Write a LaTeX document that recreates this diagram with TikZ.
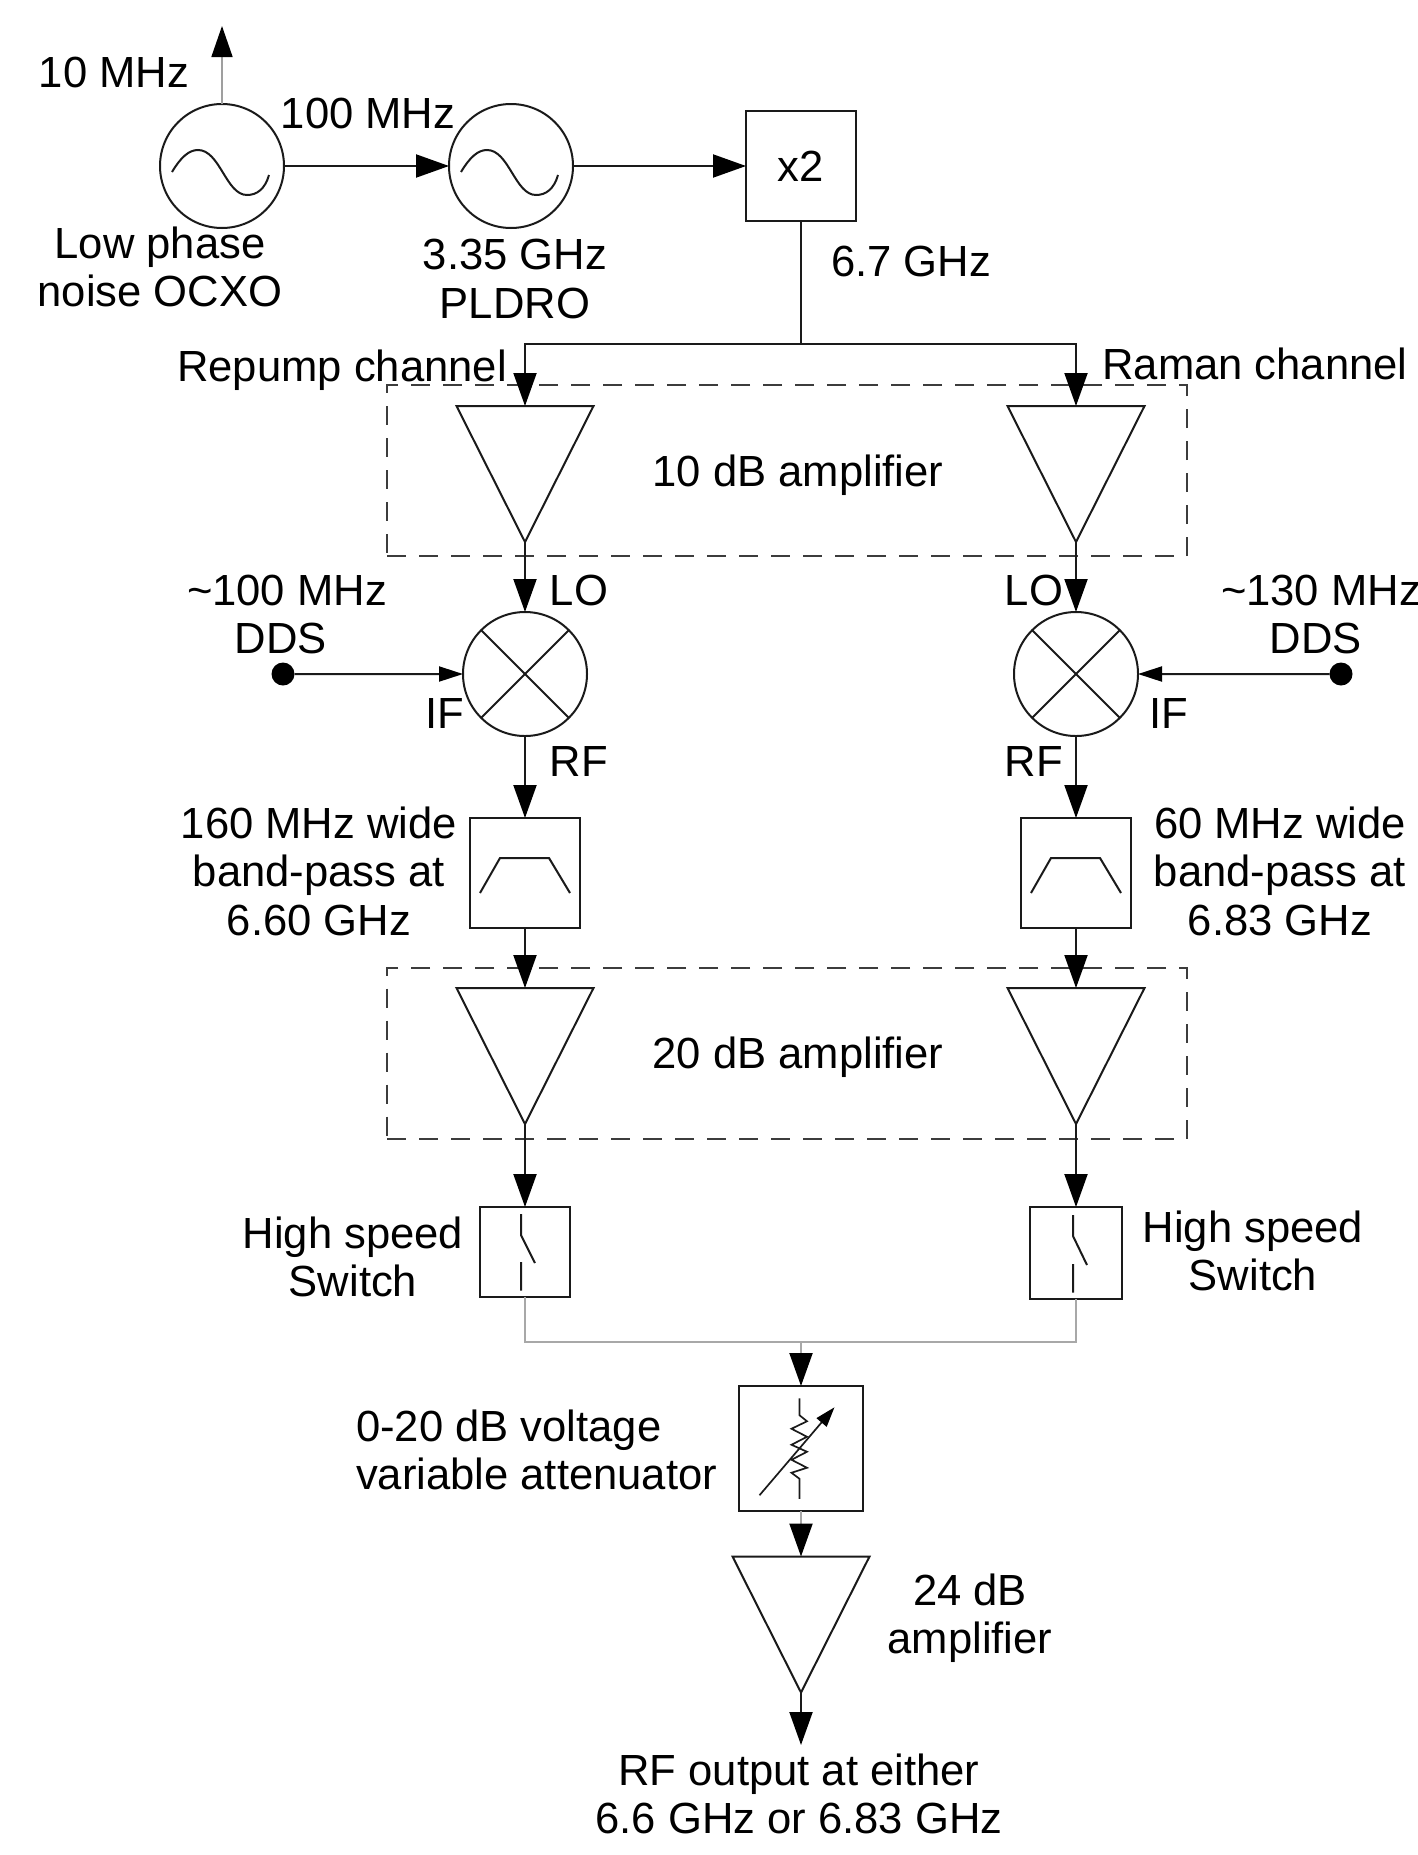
\documentclass[tikz,border=0pt]{standalone}
\usepackage{fontspec}
\setmainfont{Liberation Sans}
\usetikzlibrary{arrows.meta,positioning,shapes.geometric}
\definecolor{rfline}{HTML}{1A1A1A}
\definecolor{rfgrey}{HTML}{A8A8A8}
\definecolor{rfdash}{HTML}{3C3C3C}

\begin{document}
\begin{tikzpicture}[x=1pt,y=-1pt,line width=2pt,draw=rfline,every node/.style={font=\fontsize{43.6}{48.5}\selectfont,align=center,inner sep=0pt,outer sep=0pt,text=black}]
\tikzset{osc/.style={draw,circle,minimum size=124pt}, mixer/.style={draw,circle,minimum size=124pt}, boxed/.style={draw,rectangle,minimum width=#1,minimum height=#1}, amp/.style={draw,isosceles triangle,isosceles triangle stretches,shape border rotate=-90,minimum width=137pt,minimum height=136pt}, gainbox/.style={draw=rfdash,dash pattern=on 19pt off 13pt,line width=2pt,minimum width=800pt,minimum height=171pt}, dds/.style={fill=black,circle,minimum size=23pt}, flow/.style={-{Triangle[length=33pt,width=23pt,color=black]}}, feed/.style={-{Triangle[length=24pt,width=15pt,color=black]}}, greyflow/.style={flow,draw=rfgrey}}
\useasboundingbox (0,0) rectangle (1418,1855);
% sources
\node[osc] (ocxo) at (222,166) {};
\node[osc,right=165pt of ocxo] (pldro) {};
\node[boxed=110pt,right=173pt of pldro] (dbl) {x2};
\coordinate (out10) at (222,26);
\coordinate (split) at (801,344);
\coordinate (splitL) at (525,344);
\coordinate (splitR) at (1076,344);
% dashed groups
\node[gainbox] (gainA) at (787,470.5) {};
\node[gainbox] (gainB) at (787,1053) {};
% left channel
\node[amp,anchor=north] (ampAL) at (525,406) {};
\node[mixer,below=70pt of ampAL] (mixL) {};
\node[boxed=110pt,below=82pt of mixL] (bpfL) {};
\node[amp,below=60pt of bpfL] (ampBL) {};
\node[boxed=90pt,below=83pt of ampBL] (swL) {};
\node[dds] (ddsL) at (283,674) {};
% right channel
\node[amp,anchor=north] (ampAR) at (1076,406) {};
\node[mixer,below=70pt of ampAR] (mixR) {};
\node[boxed=110pt,below=82pt of mixR] (bpfR) {};
\node[amp,below=60pt of bpfR] (ampBR) {};
\node[boxed=92pt,below=83pt of ampBR] (swR) {};
\node[dds] (ddsR) at (1341,674) {};
% output stage
\coordinate (merge) at (801,1342);
\node[boxed=124.5pt,below=44pt of merge] (vva) {};
\node[amp,below=46pt of vva] (ampC) {};
\coordinate (rfout) at (801,1745);
% connectors
\draw[gray!75,-{Triangle[length=31pt,width=21pt,color=black]},line width=1.6pt] (ocxo.north) -- (out10);
\draw[flow] (ocxo) -- (pldro);
\draw[flow] (pldro) -- (dbl);
\draw (dbl) -- (split);
\draw[flow] (split) -- (splitL) -- (ampAL.north);
\draw[flow] (split) -- (splitR) -- (ampAR.north);
\foreach \side in {L,R}{
\draw[flow] (ampA\side.apex) -- (mix\side);
\draw[flow] (mix\side) -- (bpf\side);
\draw[flow] (bpf\side) -- (ampB\side.north);
\draw[flow] (ampB\side.apex) -- (sw\side);
\draw[rfgrey] (sw\side.south) |- (merge);
\draw (mix\side.45) -- (mix\side.225);
\draw (mix\side.135) -- (mix\side.315);
\draw ([shift={(-45,20)}]bpf\side.center) -- ++(20,-35) -- ++(49,0) -- ++(21,35);
}
\draw[feed] (ddsL) -- (mixL);
\draw[feed] (ddsR) -- (mixR);
\draw[greyflow] (merge) -- (vva);
\draw[greyflow] (vva) -- (ampC.north);
\draw[flow] (ampC.apex) -- (rfout);
% oscillator and switch glyphs
\foreach \osc in {ocxo,pldro}
\draw ([shift={(-50,6)}]\osc.center) .. controls +(9,-15) and +(-9,0) .. ++(26,-22) .. controls +(22,0) and +(-21,0) .. ++(49,45) .. controls +(10,0) and +(-4,14) .. ++(22,-20);
\draw ([shift={(-4,-38)}]swL.center) -- ++(0,21) -- ++(14,28) ([shift={(-4,10)}]swL.center) -- ++(0,28.5);
\draw ([shift={(-3,-38)}]swR.center) -- ++(0,21) -- ++(14,29) ([shift={(-3,11)}]swR.center) -- ++(0,28.5);
% attenuator glyph
\draw[line width=1.7pt] ([shift={(-1.5,-50)}]vva.center) -- ++(0,17) -- ++(7.5,6) -- ++(-15.5,7.5) -- ++(15.5,8) -- ++(-15.5,8) -- ++(15.5,7) -- ++(-15.5,8) -- ++(15.5,8) -- ++(-15.5,5) -- ++(8,6) -- ++(0,20);
\draw[line width=1.7pt,-{Triangle[length=20pt,width=13pt,color=black]}] ([shift={(-41.5,47)}]vva.center) -- ++(75,-88);
% labels
\node (lab10) at (114,72) {10 MHz};
\node (lab100) at (368,113) {100 MHz};
\node (labocxo) at (160,267) {Low phase\\noise OCXO};
\node (labpldro) at (515,279) {3.35 GHz\\PLDRO};
\node (lab67) at (911,261) {6.7 GHz};
\node (labrep) at (342,370) {Repump channel};
\node (labram) at (1255,364) {Raman channel};
\node (labA) at (798,475) {10 dB amplifier};
\node (labB) at (798,1057) {20 dB amplifier};
\node (labLOL) at (579,590) {LO};
\node (labLOR) at (1034,590) {LO};
\node (labIFL) at (445,713) {IF};
\node (labIFR) at (1169,713) {IF};
\node (labRFL) at (579,761) {RF};
\node (labRFR) at (1034,761) {RF};
\node (labfreqL) at (287,590) {\textasciitilde100 MHz};
\node (labtypeL) at (281,638) {DDS};
\node (labfreqR) at (1321,590) {\textasciitilde130 MHz};
\node (labtypeR) at (1316,638) {DDS};
\node (labbpfL) at (319,871) {160 MHz wide\\band-pass at\\6.60 GHz};
\node (labbpfR) at (1280,871) {60 MHz wide\\band-pass at\\6.83 GHz};
\node (labswL) at (353,1257) {High speed\\Switch};
\node (labswR) at (1253,1251) {High speed\\Switch};
\node[anchor=west,align=left] (labvva) at (356,1450) {0-20 dB voltage\\variable attenuator};
\node (labC) at (970,1618) {24 dB\\amplifier};
\node (labout) at (799,1794) {RF output at either\\6.6 GHz or 6.83 GHz};
\end{tikzpicture}
\end{document}
